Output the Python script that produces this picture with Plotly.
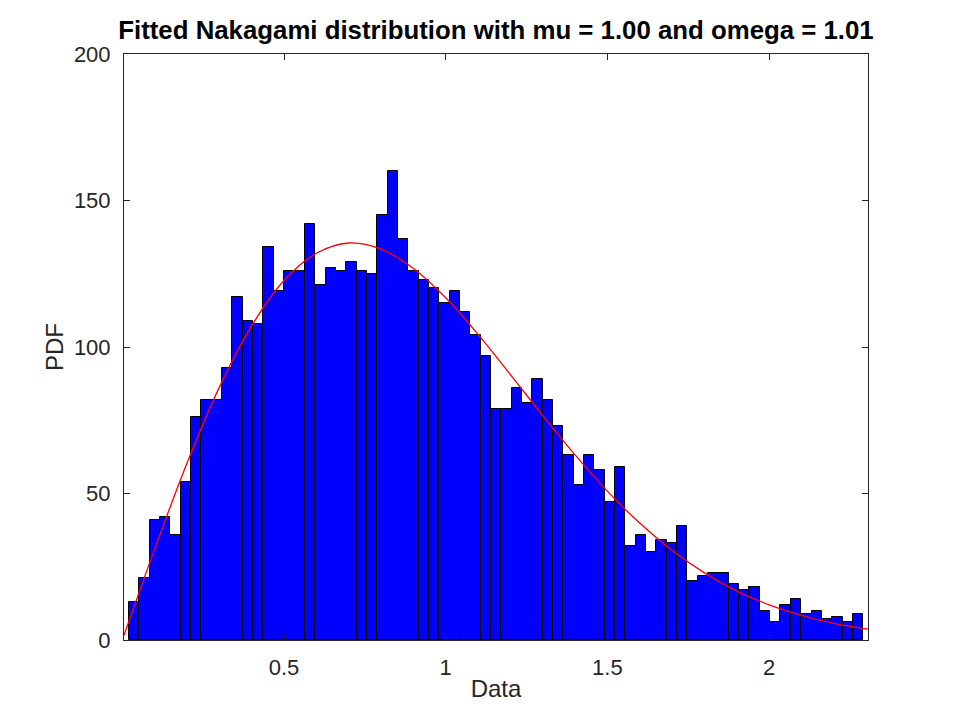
import plotly.graph_objects as go

# histogram counts (71 equal bins)
bin_start = 0.0206
bin_width = 0.03198
counts = [13, 21, 41, 42, 36, 54, 76, 82, 82, 93,
          117, 109, 108, 134, 119, 126, 126, 142, 121, 127,
          126, 129, 126, 125, 145, 160, 137, 126, 123, 120,
          115, 119, 112, 104, 97, 79, 79, 86, 81, 89,
          82, 73, 63, 53, 63, 58, 47, 59, 32, 36,
          30, 34, 33, 39, 20, 22, 23, 23, 19, 17,
          18, 10, 6, 12, 14, 9, 10, 7, 8, 6,
          9]

# fitted curve, points
curve_x = [0.005, 0.1, 0.2, 0.3, 0.4, 0.5, 0.6, 0.7, 0.8, 0.9, 1.0, 1.1,
           1.2, 1.3, 1.4, 1.5, 1.6, 1.7, 1.8, 1.9, 2.0, 2.1, 2.2, 2.306]
curve_y = [1.6, 31.1, 60.4, 86.3, 107.3, 122.7, 132.0, 135.5, 133.4, 126.8,
           116.8, 104.3, 90.6, 76.6, 63.2, 50.8, 39.9, 30.6, 22.9, 16.7,
           12.0, 8.4, 5.7, 3.7]

title_text = "Fitted Nakagami distribution with mu = 1.00 and omega = 1.01"
x_ticks = [0.5, 1, 1.5, 2]
x_ticktext = ["0.5", "1", "1.5", "2"]
y_ticks = [0, 50, 100, 150, 200]

centers = [bin_start + bin_width * (i + 0.5) for i in range(len(counts))]

fig = go.Figure()
fig.add_trace(go.Bar(x=centers, y=counts, width=bin_width,
                     marker=dict(color="#0000ff", line=dict(color="black", width=1)),
                     showlegend=False))
fig.add_trace(go.Scatter(x=curve_x, y=curve_y, mode="lines", line_shape="spline",
                         line=dict(color="#ff0000", width=1.3), showlegend=False))

axis_style = dict(showline=True, linecolor="#262626", linewidth=1, mirror="allticks",
                  ticks="inside", ticklen=6, tickcolor="#262626", showgrid=False,
                  zeroline=False, tickfont=dict(size=22, color="#262626"))

fig.update_xaxes(range=[0.005, 2.306], tickvals=x_ticks, ticktext=x_ticktext,
                 title=dict(text="Data", font=dict(size=24, color="#262626"), standoff=0),
                 ticklabelstandoff=8, **axis_style)
fig.update_yaxes(range=[0, 200], tickvals=y_ticks,
                 title=dict(text="PDF", font=dict(size=24, color="#262626"), standoff=3),
                 ticklabelstandoff=8, **axis_style)

# page body adds 8px, so the figure is 8px smaller than the window
fig.update_layout(
    width=952, height=712,
    margin=dict(l=116, r=92, t=46, b=80),
    paper_bgcolor="white", plot_bgcolor="white",
    font=dict(family="Liberation Sans, Arial, sans-serif"),
    bargap=0,
    title=dict(text="<b>" + title_text + "</b>", xref="paper", x=0.5, xanchor="center",
               yref="container", y=0.9697, yanchor="middle",
               font=dict(size=25.8, color="black")),
)

fig.write_html("out.html")
